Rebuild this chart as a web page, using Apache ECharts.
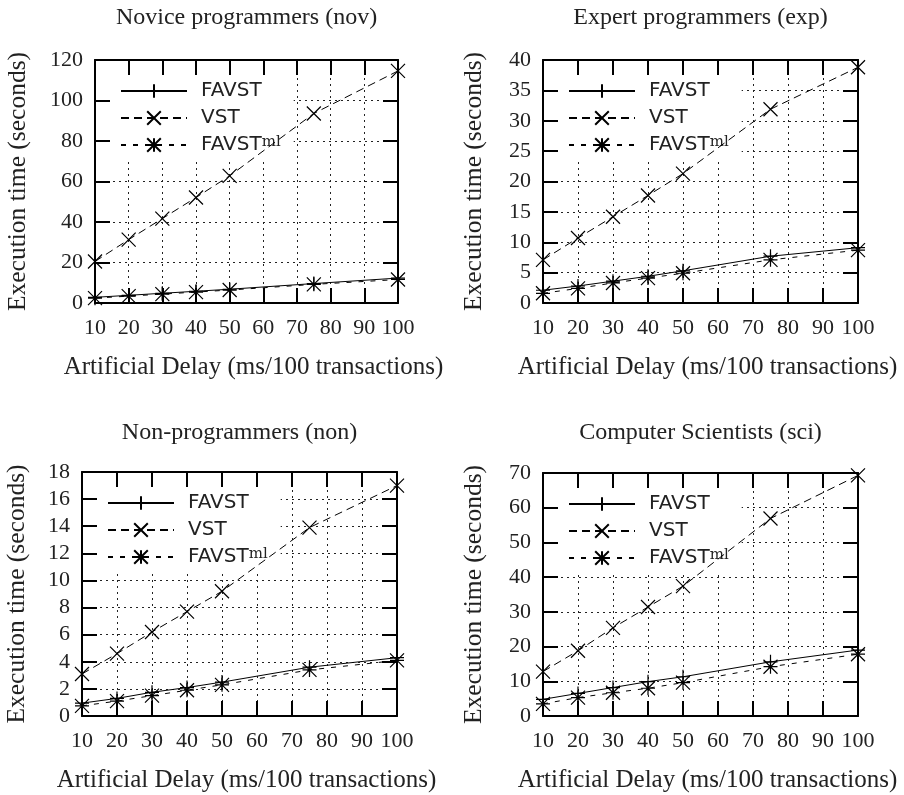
<!DOCTYPE html>
<html lang="en">
<head>
    <meta charset="UTF-8">
    <title>Execution time vs artificial delay</title>
    <style>
        html, body { margin: 0; padding: 0; background: #fff; }
        #main { width: 904px; height: 795px; }
    </style>
</head>
<body>
<div id="main"></div>
<script src="https://cdn.jsdelivr.net/npm/echarts@6/dist/echarts.min.js"></script>
<script type="text/javascript">
    // x values (ms / 100 transactions)
    var delays = [10, 20, 30, 40, 50, 75, 100];
    var seriesNames = ['FAVST', 'VST', 'FAVSTml'];

    // Novice programmers
    var novFavst = [2.8, 3.8, 4.8, 5.8, 6.8, 9.6, 12.3];
    var novVst = [20.5, 31.3, 41.7, 52.1, 62.8, 93.6, 114.6];
    var novMl = [2.4, 3.4, 4.4, 5.4, 6.4, 9.2, 11.6];
    // Expert programmers
    var expFavst = [2.1, 2.8, 3.6, 4.4, 5.3, 7.7, 9.1];
    var expVst = [7.1, 10.7, 14.2, 17.7, 21.3, 31.9, 38.8];
    var expMl = [1.6, 2.4, 3.3, 4.1, 4.9, 7.1, 8.7];
    // Non-programmers
    var nonFavst = [0.95, 1.3, 1.75, 2.1, 2.5, 3.6, 4.3];
    var nonVst = [3.1, 4.6, 6.2, 7.7, 9.2, 13.9, 17.0];
    var nonMl = [0.75, 1.1, 1.5, 1.9, 2.3, 3.4, 4.1];
    // Computer scientists
    var sciFavst = [4.8, 6.5, 8.2, 9.9, 11.3, 15.6, 19.0];
    var sciVst = [12.8, 18.8, 25.4, 31.4, 37.4, 56.9, 69.3];
    var sciMl = [3.5, 5.3, 6.7, 8.0, 9.6, 14.2, 17.8];

    // y axis ranges
    var yMax = [120, 40, 18, 70];
    var yStep = [20, 5, 2, 10];
    var titles = ['Novice programmers (nov)', 'Expert programmers (exp)', 'Non-programmers (non)', 'Computer Scientists (sci)'];
    var xName = 'Artificial Delay (ms/100 transactions)';
    var yName = 'Execution time (seconds)';

    var values = [
        [novFavst, novVst, novMl],
        [expFavst, expVst, expMl],
        [nonFavst, nonVst, nonMl],
        [sciFavst, sciVst, sciMl]
    ];

    // layout of the four plots (pixels)
    var boxes = [
        {left: 95, top: 60, width: 303, height: 243, yGap: 64, titleTop: 6},
        {left: 543, top: 60, width: 315, height: 243, yGap: 56, titleTop: 6},
        {left: 82, top: 472, width: 315, height: 244, yGap: 52, titleTop: 421},
        {left: 543, top: 473, width: 315, height: 243, yGap: 56, titleTop: 421}
    ];

    var serif = 'Liberation Serif';
    var symbols = [
        'path://M0,-1L0,1M-1,0L1,0',
        'path://M-1,-1L1,1M1,-1L-1,1',
        'path://M-1,-1L1,1M1,-1L-1,1M0,-1L0,1M-1,0L1,0'
    ];
    var dashes = ['solid', [8, 5], [5, 7]];

    function pairs(ys) {
        var out = [];
        for (var i = 0; i < delays.length; i++) {
            out.push([delays[i], ys[i]]);
        }
        return out;
    }

    // frame line + long inward ticks, new object for every axis
    function frameAxis(extra) {
        var a = {
            type: 'value',
            axisLine: {show: true, onZero: false, lineStyle: {color: '#000', width: 2}},
            axisTick: {show: true, inside: true, length: 15, lineStyle: {color: '#000', width: 2}},
            splitLine: {show: false},
            axisLabel: {show: false}
        };
        for (var k in extra) a[k] = extra[k];
        return a;
    }

    function gridLine() {
        return {show: true, lineStyle: {color: '#222', width: 1, type: [2, 4]}};
    }

    var myChart = echarts.init(document.getElementById('main'));

    var grid = [], xAxis = [], yAxis = [], series = [], title = [], legend = [];

    for (var p = 0; p < 4; p++) {
        var b = boxes[p];
        grid.push({left: b.left, top: b.top, width: b.width, height: b.height});

        title.push({
            text: titles[p], left: b.left + b.width / 2, top: b.titleTop, textAlign: 'center', padding: 0,
            textStyle: {fontFamily: serif, fontSize: 24, fontWeight: 'normal', color: '#222'}
        });

        xAxis.push(frameAxis({
            gridIndex: p, min: 10, max: 100, interval: 10, position: 'bottom',
            splitLine: gridLine(),
            axisLabel: {show: true, color: '#222', fontFamily: serif, fontSize: 22, margin: 14},
            name: xName, nameLocation: 'middle', nameGap: 52,
            nameTextStyle: {color: '#222', fontFamily: serif, fontSize: 25, padding: [0, 0, 0, 14]}
        }));
        xAxis.push(frameAxis({gridIndex: p, min: 10, max: 100, interval: 10, position: 'top'}));
        yAxis.push(frameAxis({
            gridIndex: p, min: 0, max: yMax[p], interval: yStep[p], position: 'left',
            splitLine: gridLine(),
            axisLabel: {show: true, color: '#222', fontFamily: serif, fontSize: 22, margin: 12},
            name: yName, nameLocation: 'middle', nameGap: b.yGap,
            nameTextStyle: {color: '#222', fontFamily: serif, fontSize: 25.5}
        }));
        yAxis.push(frameAxis({gridIndex: p, min: 0, max: yMax[p], interval: yStep[p], position: 'right'}));

        // white key box hides the dotted grid behind it, data lines stay on top
        legend.push({
            data: seriesNames, orient: 'vertical', left: b.left + 16, top: b.top + 16,
            padding: [5, 13, 3, 9], itemWidth: 66, itemHeight: 17, itemGap: 7,
            backgroundColor: '#fff', z: 1, selectedMode: false,
            formatter: function (name) {
                return name === 'FAVSTml' ? 'FAVST{sup|ml}' : name;
            },
            textStyle: {
                fontFamily: 'DejaVu Sans', fontSize: 20, lineHeight: 20, color: '#222', padding: [0, 0, 0, 9],
                rich: {sup: {fontFamily: 'DejaVu Serif', fontSize: 15, lineHeight: 5, verticalAlign: 'top', color: '#222'}}
            }
        });

        for (var s = 0; s < 3; s++) {
            series.push({
                name: seriesNames[s], type: 'line',
                xAxisIndex: 2 * p, yAxisIndex: 2 * p,
                data: pairs(values[p][s]),
                symbol: symbols[s], symbolSize: 14, symbolKeepAspect: true,
                lineStyle: {color: '#000', width: 1, type: dashes[s]},
                itemStyle: {color: 'rgba(0,0,0,0)', borderColor: '#000', borderWidth: 1.2},
                emphasis: {disabled: true},
                silent: true, z: 2
            });
        }
    }

    myChart.setOption({
        animation: false,
        title: title,
        legend: legend,
        grid: grid,
        xAxis: xAxis,
        yAxis: yAxis,
        series: series
    });
    window.addEventListener('resize', function () {
        myChart.resize();
    });
</script>
</body>
</html>
